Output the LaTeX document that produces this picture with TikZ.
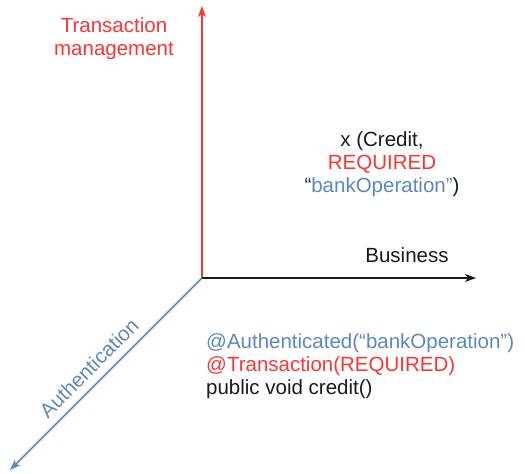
\documentclass[tikz,border=0pt]{standalone}
\usepackage{fontspec}
\setmainfont{Liberation Sans}
\usetikzlibrary{arrows.meta}
\definecolor{axred}{HTML}{FF3333}
\definecolor{axblue}{HTML}{5B88C2}
\definecolor{axblack}{HTML}{1A1A1A}
\tikzset{
  axis/.style={line width=1.5pt, -{Stealth[length=11pt,width=8pt,inset=3pt]}},
  lbl/.style={font=\fontsize{20.5}{23}\selectfont, inner sep=0pt},
}
\begin{document}
\begin{tikzpicture}[x=1pt,y=-1pt]
  \useasboundingbox (0,0) rectangle (525,474);
  % axes origin and end points
  \coordinate (O)  at (202,278);
  \coordinate (Tp) at (202,6);
  \coordinate (Rt) at (476,278);
  \coordinate (Bl) at (10,470);
  \draw[axis, axred]   (O) -- (Tp);
  \draw[axis, axblack] (O) -- (Rt);
  \draw[axis, axblue]  (O) -- (Bl);
  % axis labels
  \node[lbl, text=axred, align=center] (tm) at (114,38.5) {Transaction\\management};
  \node[lbl, text=axblack] (bus) at (407,255) {Business};
  \node[lbl, text=axblue, rotate=45] (auth) at (89,368) {Authentication};
  % point in the space
  \node[lbl, text=axblack, align=center] (pt) at (382,164)
    {x (Credit,\\\textcolor{axred}{REQUIRED}\\“\textcolor{axblue}{bankOperation”})};
  % annotated method
  \node[lbl, text=axblack, align=left, anchor=west] (code) at (206,366)
    {\textcolor{axblue}{@Authenticated(“bankOperation”)}\\
     \textcolor{axred}{@Transaction(REQUIRED)}\\
     public void credit()};
\end{tikzpicture}
\end{document}
